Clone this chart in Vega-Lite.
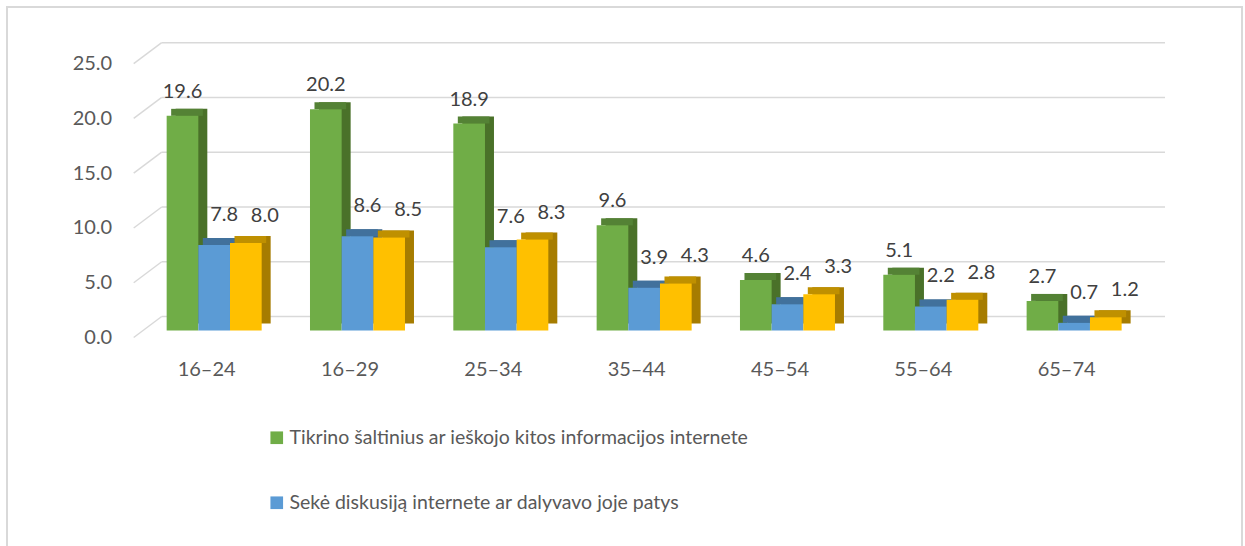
{
  "$schema": "https://vega.github.io/schema/vega-lite/v6.json",
  "width": 1235,
  "height": 540,
  "autosize": "none",
  "padding": {"left": 7, "top": 7, "right": 3, "bottom": -1},
  "background": "white",
  "config": {
    "view": {"stroke": "#d9d9d9", "strokeWidth": 2},
    "font": "Lato",
    "text": {"font": "Lato"}
  },
  "datasets": {
    "bars": [
      {"age": "16–24", "series": "Tikrino šaltinius ar ieškojo kitos informacijos internete", "value": 19.6},
      {"age": "16–24", "series": "Sekė diskusiją internete ar dalyvavo joje patys", "value": 7.8},
      {"age": "16–24", "series": "Aptarė informaciją su kitais asmenimis ne internete", "value": 8.0},
      {"age": "16–29", "series": "Tikrino šaltinius ar ieškojo kitos informacijos internete", "value": 20.2},
      {"age": "16–29", "series": "Sekė diskusiją internete ar dalyvavo joje patys", "value": 8.6},
      {"age": "16–29", "series": "Aptarė informaciją su kitais asmenimis ne internete", "value": 8.5},
      {"age": "25–34", "series": "Tikrino šaltinius ar ieškojo kitos informacijos internete", "value": 18.9},
      {"age": "25–34", "series": "Sekė diskusiją internete ar dalyvavo joje patys", "value": 7.6},
      {"age": "25–34", "series": "Aptarė informaciją su kitais asmenimis ne internete", "value": 8.3},
      {"age": "35–44", "series": "Tikrino šaltinius ar ieškojo kitos informacijos internete", "value": 9.6},
      {"age": "35–44", "series": "Sekė diskusiją internete ar dalyvavo joje patys", "value": 3.9},
      {"age": "35–44", "series": "Aptarė informaciją su kitais asmenimis ne internete", "value": 4.3},
      {"age": "45–54", "series": "Tikrino šaltinius ar ieškojo kitos informacijos internete", "value": 4.6},
      {"age": "45–54", "series": "Sekė diskusiją internete ar dalyvavo joje patys", "value": 2.4},
      {"age": "45–54", "series": "Aptarė informaciją su kitais asmenimis ne internete", "value": 3.3},
      {"age": "55–64", "series": "Tikrino šaltinius ar ieškojo kitos informacijos internete", "value": 5.1},
      {"age": "55–64", "series": "Sekė diskusiją internete ar dalyvavo joje patys", "value": 2.2},
      {"age": "55–64", "series": "Aptarė informaciją su kitais asmenimis ne internete", "value": 2.8},
      {"age": "65–74", "series": "Tikrino šaltinius ar ieškojo kitos informacijos internete", "value": 2.7},
      {"age": "65–74", "series": "Sekė diskusiją internete ar dalyvavo joje patys", "value": 0.7},
      {"age": "65–74", "series": "Aptarė informaciją su kitais asmenimis ne internete", "value": 1.2}
    ],
    "grid": [{"v": 0}, {"v": 5}, {"v": 10}, {"v": 15}, {"v": 20}, {"v": 25}]
  },
  "layer": [
    {
      "data": {"name": "grid"},
      "mark": {"type": "rule", "color": "#d9d9d9", "strokeWidth": 1.5, "xOffset": 19.2, "x2Offset": 19.2},
      "encoding": {
        "y": {"field": "v", "type": "quantitative", "scale": {"domain": [-21.047, 28.26], "nice": false, "zero": false},
              "axis": {"values": [0, 5, 10, 15, 20, 25], "format": ".1f", "offset": -154.7, "domain": false, "ticks": false, "tickSize": 0, "grid": false, "labelPadding": 50, "labelOffset": 21, "labelFontSize": 20, "labelColor": "#595959", "title": null}},
        "x": {"datum": "16–24", "bandPosition": 0, "type": "nominal",
              "scale": {"domain": ["16–24", "16–29", "25–34", "35–44", "45–54", "55–64", "65–74"], "paddingInner": 0, "paddingOuter": 0.8083, "align": 0.5848},
              "axis": {"orient": "bottom", "offset": -230.5, "domain": false, "ticks": false, "tickSize": 0, "grid": false, "labelPadding": 52.5, "labelBaseline": "middle", "labelOffset": -7.5, "labelAngle": 0, "labelFontSize": 20, "labelColor": "#595959", "title": null}},
        "x2": {"datum": "65–74", "bandPosition": 1}
      }
    },
    {
      "data": {"name": "grid"},
      "mark": {"type": "rule", "color": "#d9d9d9", "strokeWidth": 1.5, "xOffset": 19.2, "x2Offset": -8.8, "y2Offset": 21},
      "encoding": {
        "y": {"field": "v", "type": "quantitative"},
        "y2": {"field": "v"},
        "x": {"datum": "16–24", "bandPosition": 0, "type": "nominal"},
        "x2": {"datum": "16–24", "bandPosition": 0}
      }
    },
    {
      "data": {"name": "bars"},
      "mark": {"type": "bar", "yOffset": 7, "y2Offset": 7},
      "encoding": {
        "x": {"field": "age", "type": "nominal", "sort": null},
        "xOffset": {"field": "series", "type": "nominal", "scale": {"domain": ["Tikrino šaltinius ar ieškojo kitos informacijos internete", "Sekė diskusiją internete ar dalyvavo joje patys", "Aptarė informaciją su kitais asmenimis ne internete"], "paddingInner": 0, "paddingOuter": 0.763, "align": 0.686}},
        "y": {"field": "value", "type": "quantitative"},
        "y2": {"datum": 0},
        "color": {"field": "series", "type": "nominal", "legend": null,
                  "scale": {"domain": ["Tikrino šaltinius ar ieškojo kitos informacijos internete", "Sekė diskusiją internete ar dalyvavo joje patys", "Aptarė informaciją su kitais asmenimis ne internete"], "range": ["#4a7129", "#38638a", "#a67c00"]}}
      }
    },
    {
      "data": {"name": "bars"},
      "mark": {"type": "bar", "yOffset": 7, "y2Offset": 14},
      "encoding": {
        "x": {"field": "age", "type": "nominal", "sort": null},
        "xOffset": {"field": "series", "type": "nominal", "scale": {"domain": ["Tikrino šaltinius ar ieškojo kitos informacijos internete", "Sekė diskusiją internete ar dalyvavo joje patys", "Aptarė informaciją su kitais asmenimis ne internete"], "paddingInner": 0, "paddingOuter": 0.763, "align": 0.593}},
        "y": {"field": "value", "type": "quantitative"},
        "y2": {"field": "value"},
        "color": {"field": "series", "type": "nominal", "legend": null,
                  "scale": {"domain": ["Tikrino šaltinius ar ieškojo kitos informacijos internete", "Sekė diskusiją internete ar dalyvavo joje patys", "Aptarė informaciją su kitais asmenimis ne internete"], "range": ["#548235", "#41719c", "#bf9000"]}}
      }
    },
    {
      "data": {"name": "bars"},
      "mark": {"type": "bar", "yOffset": 14, "y2Offset": 14},
      "encoding": {
        "x": {"field": "age", "type": "nominal", "sort": null},
        "xOffset": {"field": "series", "type": "nominal", "scale": {"domain": ["Tikrino šaltinius ar ieškojo kitos informacijos internete", "Sekė diskusiją internete ar dalyvavo joje patys", "Aptarė informaciją su kitais asmenimis ne internete"], "paddingInner": 0, "paddingOuter": 0.763, "align": 0.5}},
        "y": {"field": "value", "type": "quantitative"},
        "y2": {"datum": 0},
        "color": {"field": "series", "type": "nominal",
                  "scale": {"domain": ["Tikrino šaltinius ar ieškojo kitos informacijos internete", "Sekė diskusiją internete ar dalyvavo joje patys", "Aptarė informaciją su kitais asmenimis ne internete"], "range": ["#70ad47", "#5b9bd5", "#ffc000"]},
                  "legend": {"orient": "none", "legendX": 260, "legendY": 421, "direction": "vertical", "title": null, "values": ["Tikrino šaltinius ar ieškojo kitos informacijos internete", "Sekė diskusiją internete ar dalyvavo joje patys"], "symbolType": "square", "symbolSize": 160, "symbolStrokeWidth": 0, "labelFontSize": 19.5, "labelColor": "#595959", "labelOffset": 3, "rowPadding": 44, "labelLimit": 800}}
      }
    },
    {
      "data": {"name": "bars"},
      "transform": [{"filter": "datum.series === 'Tikrino šaltinius ar ieškojo kitos informacijos internete'"}],
      "mark": {"type": "text", "dx": 9, "yOffset": -10, "fontSize": 20, "color": "#404040", "baseline": "middle"},
      "encoding": {
        "x": {"field": "age", "type": "nominal", "sort": null},
        "xOffset": {"field": "series", "type": "nominal", "scale": {"domain": ["Tikrino šaltinius ar ieškojo kitos informacijos internete", "Sekė diskusiją internete ar dalyvavo joje patys", "Aptarė informaciją su kitais asmenimis ne internete"], "paddingInner": 0, "paddingOuter": 0.763, "align": 0.5}},
        "y": {"field": "value", "type": "quantitative"},
        "text": {"field": "value", "type": "quantitative", "format": ".1f"}
      }
    },
    {
      "data": {"name": "bars"},
      "transform": [{"filter": "datum.series === 'Sekė diskusiją internete ar dalyvavo joje patys'"}],
      "mark": {"type": "text", "dx": 10, "yOffset": -16, "fontSize": 20, "color": "#404040", "baseline": "middle"},
      "encoding": {
        "x": {"field": "age", "type": "nominal", "sort": null},
        "xOffset": {"field": "series", "type": "nominal", "scale": {"domain": ["Tikrino šaltinius ar ieškojo kitos informacijos internete", "Sekė diskusiją internete ar dalyvavo joje patys", "Aptarė informaciją su kitais asmenimis ne internete"], "paddingInner": 0, "paddingOuter": 0.763, "align": 0.5}},
        "y": {"field": "value", "type": "quantitative"},
        "text": {"field": "value", "type": "quantitative", "format": ".1f"}
      }
    },
    {
      "data": {"name": "bars"},
      "transform": [{"filter": "datum.series === 'Aptarė informaciją su kitais asmenimis ne internete'"}],
      "mark": {"type": "text", "dx": 10, "yOffset": -13, "fontSize": 20, "color": "#404040", "baseline": "middle"},
      "encoding": {
        "x": {"field": "age", "type": "nominal", "sort": null},
        "xOffset": {"field": "series", "type": "nominal", "scale": {"domain": ["Tikrino šaltinius ar ieškojo kitos informacijos internete", "Sekė diskusiją internete ar dalyvavo joje patys", "Aptarė informaciją su kitais asmenimis ne internete"], "paddingInner": 0, "paddingOuter": 0.763, "align": 0.5}},
        "y": {"field": "value", "type": "quantitative"},
        "text": {"field": "value", "type": "quantitative", "format": ".1f"}
      }
    }
  ],
  "resolve": {"scale": {"color": "independent", "xOffset": "independent"}}
}
